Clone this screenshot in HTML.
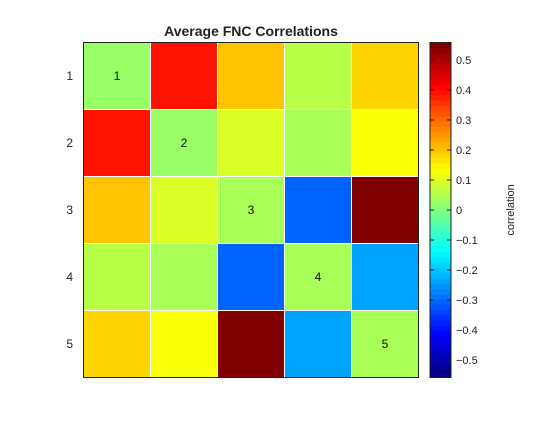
<!DOCTYPE html>
<html><head><meta charset="utf-8"><style>
body{margin:0;background:#fff;font-family:"Liberation Sans",sans-serif;}
svg text{font-family:"Liberation Sans",sans-serif;}
</style></head><body>
<svg id="c" width="560" height="420" viewBox="0 0 560 420">
<text x="251" y="36" text-anchor="middle" font-size="14" font-weight="bold" fill="#222">Average FNC Correlations</text>
<g id="cells"></g><g id="cb"></g>
<rect x="83.5" y="42.5" width="335" height="335" fill="none" stroke="#222" stroke-width="1"/>
<text x="0" y="0" transform="translate(514,210) rotate(-90)" text-anchor="middle" font-size="11" fill="#222">correlation</text>
</svg>
<script>
const rowLabels=["1","2","3","4","5"];
const colLabels=["1","2","3","4","5"];
const values=[
[0.02,0.39,0.20,0.06,0.18],
[0.39,0.03,0.09,0.05,0.13],
[0.20,0.09,0.05,-0.31,0.56],
[0.06,0.05,-0.31,0.05,-0.23],
[0.18,0.13,0.56,-0.23,0.05]];
const cbTicks=[-0.5,-0.4,-0.3,-0.2,-0.1,0,0.1,0.2,0.3,0.4,0.5];
const cmin=-0.558,cmax=0.558;
const NS="http://www.w3.org/2000/svg";
const X0=83.5,Y0=42.5,W=335,H=335,n=5,cw=W/n,ch=H/n;
function jet(v){let t=(v-cmin)/(cmax-cmin);t=Math.max(0,Math.min(1,t));t=Math.min(63,Math.floor(t*64))/63;
const c=x=>Math.round(255*Math.max(0,Math.min(1,x)));
return `rgb(${c(1.5-Math.abs(4*t-3))},${c(1.5-Math.abs(4*t-2))},${c(1.5-Math.abs(4*t-1))})`;}
function mk(tag,a,p){const e=document.createElementNS(NS,tag);for(const k in a)e.setAttribute(k,a[k]);p.appendChild(e);return e;}
const cells=document.getElementById('cells');
for(let i=0;i<n;i++){for(let j=0;j<n;j++){
const r=mk('rect',{x:X0+j*cw,y:Y0+i*ch,width:cw,height:ch,fill:jet(values[i][j]),stroke:'#fff','stroke-width':1},cells);


if(i===j){const t=mk('text',{x:X0+j*cw+cw/2,y:Y0+i*ch+ch/2+4,'text-anchor':'middle','font-size':12,fill:'#111'},cells);t.textContent=colLabels[j];

}
}
const yl=mk('text',{x:73,y:Y0+i*ch+ch/2+4,'text-anchor':'end','font-size':12,fill:'#222'},cells);yl.textContent=rowLabels[i];


}
const cb=document.getElementById('cb');
const CX=430,CW=21,CY=42.5,CH=335;
const sy=v=>CY+CH*(cmax-v)/(cmax-cmin);
for(let k=0;k<64;k++){const v0=cmin+(cmax-cmin)*k/64,v1=cmin+(cmax-cmin)*(k+1)/64;
const r=mk('rect',{x:CX,y:sy(v1),width:CW,height:sy(v0)-sy(v1)+0.5,fill:jet((v0+v1)/2)},cb);

}
const fr=mk('rect',{x:CX,y:CY,width:CW,height:CH,fill:'none',stroke:'#222'},cb);


cbTicks.forEach(v=>{const y=sy(v);
mk('line',{x1:CX+CW-4,x2:CX+CW,y1:y,y2:y,stroke:'#222'},cb);
mk('line',{x1:CX,x2:CX+4,y1:y,y2:y,stroke:'#222'},cb);
const t=mk('text',{x:CX+CW+5,y:y+4,'font-size':11,fill:'#222'},cb);t.textContent=(v<0?'\u2212':'')+Math.abs(v).toFixed(1).replace(/^0\.0$/,'0').replace(/^0\.0/,'0');
if(v===0)t.textContent='0';

});
</script>
</body></html>
